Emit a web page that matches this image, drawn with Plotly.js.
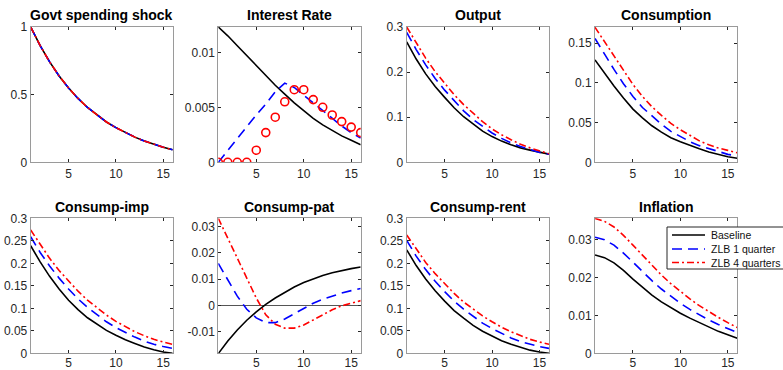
<!DOCTYPE html>
<html><head><meta charset="utf-8">
<script src="https://cdn.plot.ly/plotly-3.0.1.min.js"></script>
<style>html,body{margin:0;padding:0;background:#fff;}#chart{width:783px;height:370px;}</style>
</head><body><div id="chart"></div>
<script>
const quarters = [1,2,3,4,5,6,7,8,9,10,11,12,13,14,15,16];
const seriesNames = ["Baseline","ZLB 1 quarter","ZLB 4 quarters"];
const panelTitles = ["Govt spending shock","Interest Rate","Output","Consumption","Consump-imp","Consump-pat","Consump-rent","Inflation"];

// Govt spending shock
const govBase = [1.0,0.862,0.742,0.638,0.549,0.472,0.405,0.348,0.298,0.256,0.218,0.186,0.158,0.134,0.112,0.092];
const govZlb1 = govBase.slice();
const govZlb4 = govBase.slice();
// Interest rate
const rateBase = [0.0123,0.0115,0.0106,0.0097,0.0088,0.0079,0.0070,0.0062,0.0054,0.0047,0.0040,0.0034,0.0029,0.0024,0.0020,0.0016];
const rateZlb1 = [0,0.0011,0.0022,0.0033,0.0043,0.0053,0.0064,0.0072,0.0068,0.0061,0.0054,0.0047,0.0040,0.0033,0.0027,0.0022];
const rateZlb4 = [0,0,0,0,0.0011,0.0027,0.0041,0.0055,0.0066,0.0066,0.0057,0.0050,0.0043,0.0037,0.0032,0.0027];
// Output
const outBase = [0.267,0.229,0.196,0.168,0.144,0.121,0.101,0.084,0.069,0.057,0.047,0.039,0.032,0.027,0.022,0.018];
const outZlb1 = [0.288,0.250,0.216,0.186,0.160,0.136,0.114,0.095,0.079,0.065,0.053,0.043,0.035,0.028,0.022,0.018];
const outZlb4 = [0.300,0.264,0.231,0.201,0.175,0.150,0.128,0.108,0.090,0.074,0.061,0.050,0.040,0.032,0.025,0.019];
// Consumption
const consBase = [0.129,0.112,0.096,0.081,0.067,0.056,0.046,0.038,0.031,0.026,0.021,0.017,0.013,0.010,0.007,0.005];
const consZlb1 = [0.156,0.136,0.117,0.099,0.083,0.069,0.058,0.048,0.039,0.032,0.026,0.021,0.017,0.013,0.010,0.008];
const consZlb4 = [0.170,0.152,0.133,0.115,0.098,0.083,0.070,0.059,0.049,0.041,0.034,0.027,0.022,0.018,0.015,0.012];
// Consump-imp
const impBase = [0.239,0.203,0.171,0.143,0.118,0.097,0.079,0.064,0.051,0.040,0.030,0.022,0.014,0.008,0.003,0.000];
const impZlb1 = [0.259,0.224,0.194,0.167,0.143,0.121,0.102,0.085,0.070,0.057,0.046,0.036,0.027,0.020,0.015,0.011];
const impZlb4 = [0.274,0.241,0.211,0.184,0.160,0.138,0.118,0.101,0.085,0.071,0.059,0.048,0.039,0.031,0.025,0.020];
// Consump-pat
const patBase = [-0.0184,-0.0136,-0.0094,-0.0057,-0.0025,0.0004,0.0028,0.0050,0.0070,0.0087,0.0102,0.0114,0.0124,0.0133,0.0140,0.0146];
const patZlb1 = [0.0160,0.0095,0.0035,-0.0015,-0.0048,-0.0066,-0.0066,-0.0052,-0.0032,-0.0010,0.0008,0.0023,0.0036,0.0047,0.0056,0.0064];
const patZlb4 = [0.0332,0.0255,0.0178,0.0102,0.0028,-0.0036,-0.0072,-0.0087,-0.0087,-0.0075,-0.0056,-0.0036,-0.0017,-0.0002,0.0009,0.0018];
// Consump-rent
const rentBase = [0.230,0.195,0.165,0.139,0.116,0.095,0.078,0.062,0.049,0.038,0.028,0.020,0.013,0.007,0.003,0.000];
const rentZlb1 = [0.251,0.216,0.186,0.160,0.137,0.116,0.098,0.082,0.067,0.055,0.044,0.034,0.026,0.020,0.015,0.011];
const rentZlb4 = [0.263,0.231,0.202,0.177,0.154,0.133,0.114,0.098,0.083,0.070,0.058,0.048,0.039,0.031,0.025,0.020];
// Inflation
const inflBase = [0.0260,0.0253,0.0239,0.0219,0.0196,0.0174,0.0154,0.0136,0.0120,0.0106,0.0093,0.0081,0.0069,0.0058,0.0049,0.0040];
const inflZlb1 = [0.0307,0.0300,0.0286,0.0265,0.0241,0.0216,0.0192,0.0170,0.0150,0.0132,0.0116,0.0101,0.0088,0.0076,0.0065,0.0055];
const inflZlb4 = [0.0357,0.0349,0.0334,0.0312,0.0286,0.0259,0.0232,0.0207,0.0184,0.0163,0.0144,0.0126,0.0110,0.0095,0.0081,0.0068];

const xTicks = [5,10,15];
const yTickVals = [
  [0,0.5,1],
  [0,0.005,0.01],
  [0,0.1,0.2,0.3],
  [0,0.05,0.1,0.15],
  [0,0.05,0.1,0.15,0.2,0.25,0.3],
  [-0.01,0,0.01,0.02,0.03],
  [0,0.05,0.1,0.15,0.2,0.25,0.3],
  [0,0.01,0.02,0.03]
];
const yTickText = [
  ["0","0.5","1"],
  ["0","0.005","0.01"],
  ["0","0.1","0.2","0.3"],
  ["0","0.05","0.1","0.15"],
  ["0","0.05","0.1","0.15","0.2","0.25","0.3"],
  ["-0.01","0","0.01","0.02","0.03"],
  ["0","0.05","0.1","0.15","0.2","0.25","0.3"],
  ["0","0.01","0.02","0.03"]
];
const yRanges = [[0,1],[0,0.0123],[0,0.3],[0,0.1704],[0,0.3],[-0.0183,0.0332],[0,0.3],[0,0.0357]];

const panels = [
  [govBase,govZlb1,govZlb4],
  [rateBase,rateZlb1,rateZlb4],
  [outBase,outZlb1,outZlb4],
  [consBase,consZlb1,consZlb4],
  [impBase,impZlb1,impZlb4],
  [patBase,patZlb1,patZlb4],
  [rentBase,rentZlb1,rentZlb4],
  [inflBase,inflZlb1,inflZlb4]
];

const W = 783, H = 370;
const colPx = [[30.7,172.7],[218.3,360.7],[406.7,549],[595,737.3]];
const rowPx = [[27,162.3],[218.3,353.3]];
const font = "Liberation Sans, Arial, Helvetica, sans-serif";

const traces = [];
const layout = {
  width: W, height: H,
  margin: {l:0,r:0,t:0,b:0},
  paper_bgcolor: "#fff", plot_bgcolor: "#fff",
  font: {family: font, size: 12, color: "#262626"},
  showlegend: false,
  annotations: [],
  shapes: []
};

const styles = [
  {color: "#000000", dash: "solid"},
  {color: "#0000ff", dash: "10px,6px"},
  {color: "#ff0000", dash: "7px,3px,2px,3px"}
];

panels.forEach((data, i) => {
  const r = Math.floor(i/4), c = i%4;
  const ax = i === 0 ? "" : String(i+1);
  const xd = [colPx[c][0]/W, colPx[c][1]/W];
  const yd = [1-rowPx[r][1]/H, 1-rowPx[r][0]/H];
  layout["xaxis"+ax] = {
    domain: xd, range: [1,16], anchor: "y"+ax,
    tickvals: xTicks, ticktext: xTicks.map(String),
    ticks: "inside", ticklen: 3, tickcolor: "#262626",
    ticklabelstandoff: r === 1 ? -2 : 0,
    showline: true, linecolor: "#9a9a9a", linewidth: 1, mirror: "ticks",
    showgrid: false, zeroline: false, fixedrange: true,
    tickfont: {size: 12, color: "#262626"}
  };
  layout["yaxis"+ax] = {
    domain: yd, range: yRanges[i], anchor: "x"+ax,
    tickvals: yTickVals[i], ticktext: yTickText[i],
    ticks: "inside", ticklen: 3, tickcolor: "#262626",
    showline: true, linecolor: "#9a9a9a", linewidth: 1, mirror: "ticks",
    showgrid: false, zeroline: i === 5, zerolinecolor: "#555", zerolinewidth: 1,
    fixedrange: true,
    tickfont: {size: 12, color: "#262626"}
  };
  layout.annotations.push({
    text: "<b>"+panelTitles[i]+"</b>", xref: "paper", yref: "paper",
    x: (xd[0]+xd[1])/2, y: 1-(r===0?14.5:206.5)/H, xanchor: "center", yanchor: "middle",
    showarrow: false, font: {family: font, size: 14, color: "#000"}
  });
  data.forEach((vals, k) => {
    const t = {
      x: quarters, y: vals, xaxis: "x"+ax, yaxis: "y"+ax,
      name: seriesNames[k], showlegend: false,
      type: "scatter", hoverinfo: "skip"
    };
    if (i === 1 && k === 2) {
      t.mode = "markers";
      t.marker = {symbol: "circle-open", size: 8, color: "#ff0000", line: {width: 1.6, color: "#ff0000"}};
    } else {
      t.mode = "lines";
      t.line = {color: styles[k].color, dash: styles[k].dash, width: 1.6};
    }
    traces.push(t);
  });
});

// Legend box (drawn in paper space, inside the Inflation panel, like MATLAB's)
const legBox = {x0: 667, x1: 790, y0: 227, y1: 269};
layout.shapes.push({
  type: "rect", xref: "paper", yref: "paper",
  x0: legBox.x0/W, x1: legBox.x1/W, y0: 1-legBox.y1/H, y1: 1-legBox.y0/H,
  fillcolor: "#ffffff", line: {color: "#262626", width: 1}, layer: "above"
});
const legRows = [235, 249, 262.5];
seriesNames.forEach((nm, k) => {
  layout.shapes.push({
    type: "line", xref: "paper", yref: "paper",
    x0: 672/W, x1: 705/W, y0: 1-legRows[k]/H, y1: 1-legRows[k]/H,
    line: {color: styles[k].color, dash: styles[k].dash, width: 1.6}, layer: "above"
  });
  layout.annotations.push({
    text: nm, xref: "paper", yref: "paper",
    x: 709.5/W, y: 1-legRows[k]/H, xanchor: "left", yanchor: "middle",
    showarrow: false, borderpad: 0, font: {family: font, size: 10.5, color: "#111"}
  });
});

Plotly.newPlot("chart", traces, layout, {staticPlot: true, displayModeBar: false});
</script></body></html>
